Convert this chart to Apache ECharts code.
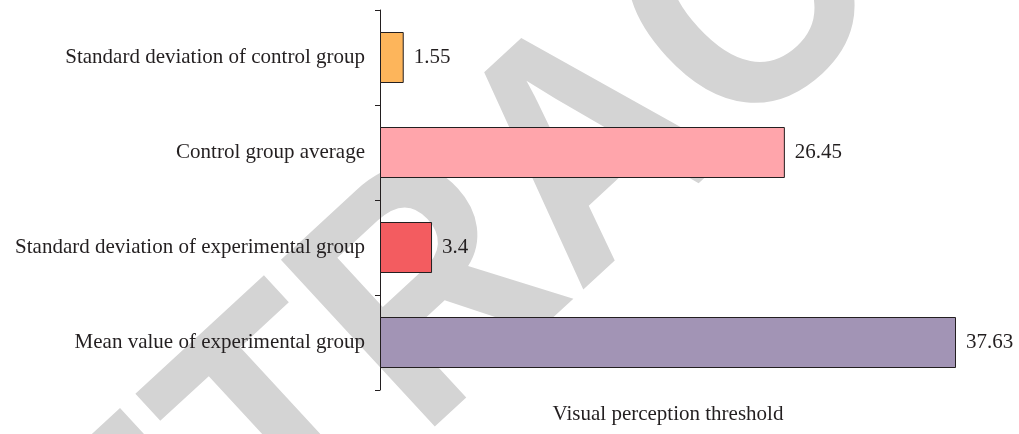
<!DOCTYPE html>
<html>
	<head>
		<meta charset="utf-8" />
		<title>Visual perception threshold</title>
		<script type="text/javascript" src="https://cdn.jsdelivr.net/npm/echarts@6/dist/echarts.min.js"></script>
		<style>
			html, body { margin: 0; padding: 0; background: #fff; }
			#chart { width: 1019px; height: 434px; }
		</style>
	</head>
	<body>
		<div id="chart"></div>
		<script type="text/javascript">
			// categories, top to bottom
			var categories = [
				'Standard deviation of control group',
				'Control group average',
				'Standard deviation of experimental group',
				'Mean value of experimental group'
			];
			var values = [1.55, 26.45, 3.4, 37.63];
			var barColors = ['#FDB55B', '#FFA5AB', '#F35C60', '#A294B5'];
			var axisName = 'Visual perception threshold';
			var watermark = 'RETRACTED';

			var serif = '"Liberation Serif", "DejaVu Serif", serif';

			var myChart = echarts.init(document.getElementById('chart'));

			var data = [];
			for (var i = 0; i < values.length; i++) {
				data.push({ value: values[i], itemStyle: { color: barColors[i] } });
			}

			var option = {
				animation: false,
				// grey "RETRACTED" stamp behind the chart
				graphic: [{
					type: 'text',
					z: -10,
					x: 595,
					y: 155,
					rotation: 0.745,
					scaleX: 0.9,
					style: {
						text: watermark,
						fill: '#d4d4d4',
						font: 'bold 330px "Liberation Sans", Arial, sans-serif',
						align: 'center',
						verticalAlign: 'middle'
					}
				}],
				grid: {
					left: 380,
					right: 63,
					top: 10,
					bottom: 44,
					outerBoundsMode: 'none'
				},
				xAxis: {
					type: 'value',
					min: 0,
					max: 'dataMax',
					axisLine: { show: false },
					axisTick: { show: false },
					axisLabel: { show: false },
					splitLine: { show: false },
					name: axisName,
					nameLocation: 'middle',
					nameGap: 14,
					nameTextStyle: { fontFamily: serif, fontSize: 21, color: '#231f20' }
				},
				yAxis: {
					type: 'category',
					inverse: true,
					data: categories,
					axisLine: { show: true, lineStyle: { color: '#231f20', width: 1 } },
					axisTick: { show: true, length: 5, lineStyle: { color: '#231f20' } },
					axisLabel: { fontFamily: serif, fontSize: 21, color: '#231f20', margin: 15 }
				},
				series: [{
					type: 'bar',
					data: data,
					barWidth: 51,
					itemStyle: { borderColor: '#231f20', borderWidth: 1 },
					label: {
						show: true,
						position: 'right',
						distance: 10,
						fontFamily: serif,
						fontSize: 21,
						color: '#231f20'
					}
				}]
			};
			myChart.setOption(option);
		</script>
	</body>
</html>
